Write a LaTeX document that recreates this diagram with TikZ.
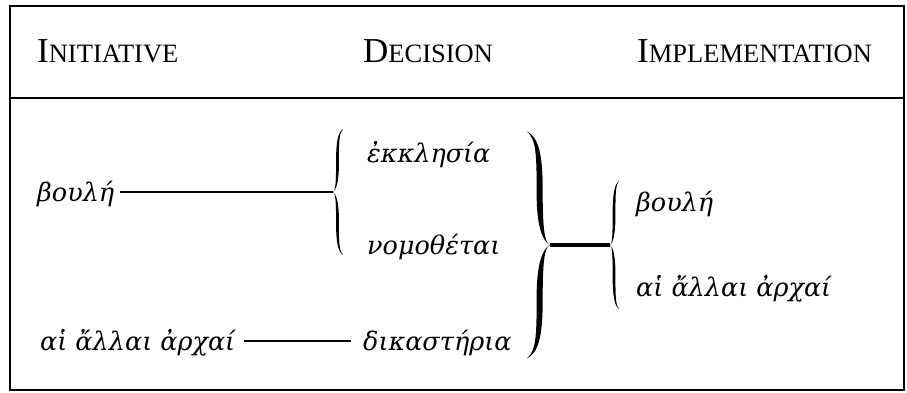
\documentclass[tikz,border=0pt]{standalone}
\usepackage{fontspec}
\setmainfont{Liberation Serif}
\newfontfamily\greekfam{DejaVu Serif}

% Small capitals built from two sizes of the same face
\newcommand\headcap[2]{{\fontsize{35}{35}\selectfont #1}{\fontsize{26.5}{26.5}\selectfont #2}}

% Tapered curly brace; tip at #1, #2 = 1 for a closing brace, -1 for an opening one,
% #3 = half height, #4 = depth from ends to tip, #5 = stroke thickness
\newcommand\gbrace[5]{%
  \begin{scope}[shift={#1}, xscale=#2]
    \foreach \s in {1,-1}{
      \fill[yscale=\s]
        ({-#4},{-#3})
        .. controls ({-0.5*#4},{-0.95*#3}) and ({-0.45*#4+#5/2},{-0.8*#3}) .. ({-0.45*#4+#5/2},{-0.5*#3})
        .. controls ({-0.45*#4+#5/2},{-0.15*#3}) and ({-0.25*#4},{-0.02*#3}) .. (0,0)
        .. controls ({-0.3*#4},{-0.03*#3}) and ({-0.45*#4-#5/2},{-0.15*#3}) .. ({-0.45*#4-#5/2},{-0.45*#3})
        .. controls ({-0.45*#4-#5/2},{-0.8*#3}) and ({-0.6*#4},{-0.93*#3}) .. cycle;
    }
  \end{scope}}

\tikzset{
  greek/.style={font=\fontsize{25.5}{25.5}\selectfont\greekfam\itshape, inner sep=0pt, anchor=base west},
  head/.style={inner sep=0pt, anchor=base west},
  rule/.style={line width=2.6pt},
  frame/.style={line width=2.8pt}
}

\begin{document}
\begin{tikzpicture}[x=1pt, y=-1pt]
  \useasboundingbox (0,0) rectangle (907,392);

  % frame and header separator
  \draw[frame] (10,6) rectangle (904,390);
  \draw[frame] (10,98) -- (904,98);

  % column headings
  \node[head] (hini) at (37,62) {\headcap{I}{NITIATIVE}};
  \node[head] (hdec) at (363,62) {\headcap{D}{ECISION}};
  \node[head] (himp) at (637,62) {\headcap{I}{MPLEMENTATION}};

  % initiative
  \node[greek] (boule1) at (37,201) {βουλή};
  \node[greek] (archai1) at (40,350) {αἱ ἄλλαι ἀρχαί};

  % decision
  \node[greek] (ekkl) at (367,162) {ἐκκλησία};
  \node[greek] (nomo) at (367,254) {νομοθέται};
  \node[greek] (dika) at (363,350) {δικαστήρια};

  % implementation
  \node[greek] (boule2) at (636,211) {βουλή};
  \node[greek] (archai2) at (636,296) {αἱ ἄλλαι ἀρχαί};

  % brace tips and rule ends
  \coordinate (lbtip) at (333,192);
  \coordinate (bbtip) at (550,245);
  \coordinate (rbtip) at (610,245);
  \coordinate (r1s) at ([xshift=6pt]boule1.east |- lbtip);
  \coordinate (r2s) at ([xshift=9pt]archai1.east |- 0,341);
  \coordinate (r2e) at ([xshift=-12pt]dika.west |- 0,341);

  \gbrace{(lbtip)}{-1}{63}{10}{2.8}
  \gbrace{(bbtip)}{1}{113.5}{23}{6}
  \gbrace{(rbtip)}{-1}{64}{9}{2.8}

  % connecting rules
  \draw[rule] (r1s) -- (lbtip);
  \draw[rule] (r2s) -- (r2e);
  \draw[line width=3.2pt] (bbtip) -- (rbtip);
\end{tikzpicture}
\end{document}
